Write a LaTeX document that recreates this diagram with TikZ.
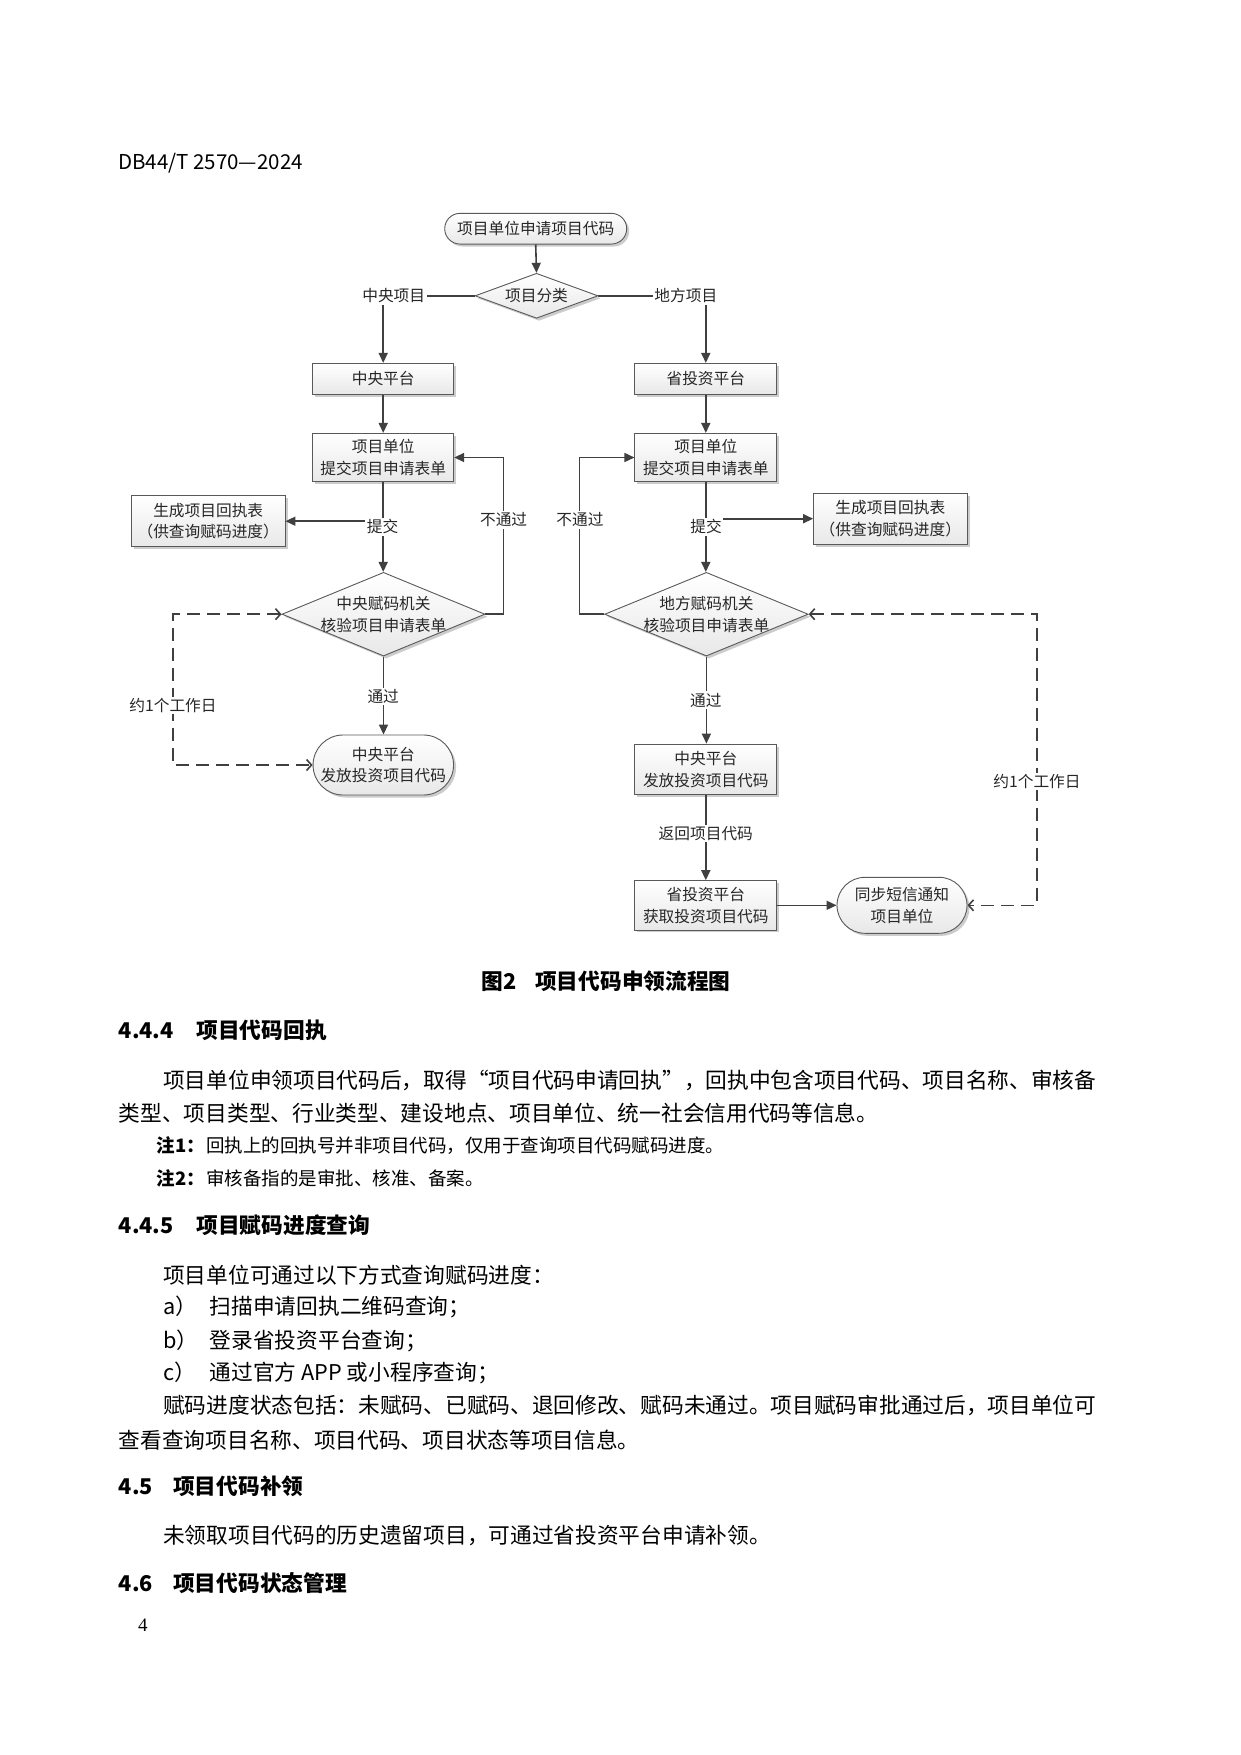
\documentclass[tikz,border=0pt]{standalone}
\usepackage{fontspec}
\newfontfamily\cjk{Noto Sans CJK SC}
\newfontfamily\serifnum{Liberation Serif}
\usetikzlibrary{shapes.geometric,shapes.misc,arrows.meta,shadows}

\definecolor{ln}{HTML}{404040}
\definecolor{bd}{HTML}{595959}
\definecolor{tx}{HTML}{262626}

\tikzset{
  dfont/.style={font=\cjk\fontsize{15.7}{21.7}\selectfont, text=tx},
  boxbase/.style={dfont, draw=bd, line width=0.9pt, top color=white, bottom color=black!9,
    drop shadow={shadow xshift=2.5pt, shadow yshift=-2.5pt, fill=black!20, opacity=1},
    align=center, inner sep=0pt},
  pbox/.style={boxbase, rectangle},
  tbox/.style={boxbase, rounded rectangle},
  dbox/.style={boxbase, diamond},
  ntext/.style={dfont, align=center, inner sep=0pt},
  lbl/.style={dfont, fill=white, inner sep=1.5pt},
  conn/.style={draw=ln, line width=1.6pt, -{Triangle[length=10pt,width=9pt]}},
  dconn/.style={draw=ln, line width=1.6pt, dash pattern=on 13pt off 7pt,
    {Straight Barb[length=5pt,width=11pt]}-{Straight Barb[length=5pt,width=11pt]}},
  body/.style={font=\cjk\fontsize{21.7}{21.7}\selectfont, anchor=west, inner sep=0pt,
    text height=19.1pt, text depth=2.6pt, text=black},
  hd/.style={body, font=\cjk\bfseries\fontsize{21.7}{21.7}\selectfont},
  note/.style={font=\cjk\fontsize{18.5}{18.5}\selectfont, anchor=west, inner sep=0pt,
    text height=16.3pt, text depth=2.2pt, text=black},
  notehd/.style={note, font=\cjk\bfseries\fontsize{18.5}{18.5}\selectfont},
}

\begin{document}
\begin{tikzpicture}[x=1pt,y=-1pt]
\useasboundingbox[fill=white] (0,0) rectangle (1241,1755);

% header
\node[anchor=west, inner sep=0pt, font=\cjk\fontsize{20.5}{20.5}\selectfont, text height=15pt, text depth=0pt] (hdr) at (118,170) [anchor=base west] {DB44/T 2570—2024};

% ---------- flowchart nodes ----------
\node[tbox, minimum width=182pt, minimum height=30.7pt] (s) at (535.7,228.7) {};
\node[ntext] (st) at (s) {项目单位申请项目代码};

\node[dbox, minimum width=123pt, minimum height=45pt] (d0) at (536.5,295.8) {};
\node[ntext] (d0t) at (d0) {项目分类};

\node[pbox, minimum width=141pt, minimum height=30.7pt] (b1) at (383.2,378.7) {中央平台};
\node[pbox, minimum width=141.8pt, minimum height=30.7pt] (b1r) at (705.8,378.7) {省投资平台};

\node[pbox, minimum width=141pt, minimum height=48.3pt] (b2) at (383.2,457.5) {项目单位\\提交项目申请表单};
\node[pbox, minimum width=141.8pt, minimum height=48.3pt] (b2r) at (705.8,457.5) {项目单位\\提交项目申请表单};

\node[pbox, minimum width=153.6pt, minimum height=51pt] (g1) at (208.2,521.2) {生成项目回执表\\（供查询赋码进度）};
\node[pbox, minimum width=153.4pt, minimum height=50.7pt] (g1r) at (890.3,518.7) {生成项目回执表\\（供查询赋码进度）};

\node[dbox, minimum width=203pt, minimum height=83.7pt] (d1) at (383.5,614.2) {};
\node[ntext] (d1t) at (d1) {中央赋码机关\\核验项目申请表单};
\node[dbox, minimum width=203.6pt, minimum height=83.7pt] (d2) at (706.4,614.2) {};
\node[ntext] (d2t) at (d2) {地方赋码机关\\核验项目申请表单};

\node[tbox, minimum width=140.5pt, minimum height=60pt] (e1) at (383.3,765) {};
\node[ntext] (e1t) at (e1) {中央平台\\发放投资项目代码};

\node[pbox, minimum width=141.8pt, minimum height=50.3pt] (c2) at (705.8,769.2) {中央平台\\发放投资项目代码};
\node[pbox, minimum width=141.8pt, minimum height=49.3pt] (g2) at (705.8,905.3) {省投资平台\\获取投资项目代码};

\node[tbox, minimum width=130pt, minimum height=56pt] (sms) at (902,905.3) {};
\node[ntext] (smst) at (sms) {同步短信通知\\项目单位};

% helper corners
\coordinate (fl) at (503.6,614.2);
\coordinate (fr) at (579.6,614.2);
\coordinate (dl1) at (173.2,614.2);
\coordinate (dl2) at (173.2,765);
\coordinate (dr1) at (1036.8,614.2);
\coordinate (dr2) at (1036.8,905.3);

% ---------- connectors ----------
\draw[conn] (s.south) -- (d0.north);
\draw[conn] (d0.west) -| (b1.north);
\draw[conn] (d0.east) -| (b1r.north);
\draw[conn] (b1) -- (b2);
\draw[conn] (b1r) -- (b2r);
\draw[conn] (b2.south) -- (b2.south |- d1.north);
\draw[conn] (b2r.south) -- (b2r.south |- d2.north);
\draw[conn] (b2.south |- g1.east) -- (g1.east);
\draw[conn] (b2r.south |- g1r.west) -- (g1r.west);
\draw[conn] (d1.east) -- (fl) |- (b2.east);
\draw[conn] (d2.west) -- (fr) |- (b2r.west);
\draw[conn] (d1.south) -- (d1.south |- e1.north);
\draw[conn] (d2.south) -- (d2.south |- c2.north);
\draw[conn] (c2) -- (g2);
\draw[conn] (g2) -- (sms);
\draw[dconn] (d1.west) -- (dl1) -- (dl2) -- (e1.west);
\draw[dconn] (d2.east) -- (dr1) -- (dr2) -- (sms.east);

% ---------- connector labels ----------
\node[lbl] (lz) at (393.7,295.8) {中央项目};
\node[lbl] (ld) at (685.8,295.8) {地方项目};
\node[lbl] (lt1) at (382.5,526.7) {提交};
\node[lbl] (lt2) at (706,526.7) {提交};
\node[lbl] (ln1) at (503.6,520) {不通过};
\node[lbl] (ln2) at (580,520) {不通过};
\node[lbl] (lp1) at (383.2,696.7) {通过};
\node[lbl] (lp2) at (705.8,700) {通过};
\node[lbl] (lr) at (705.8,833.3) {返回项目代码};
\node[lbl] (lw1) at (173,705.7) {约1个工作日};
\node[lbl] (lw2) at (1037,781.7) {约1个工作日};

% ---------- body text ----------
\node[hd] (cap1) at (481.7,981.7) {图2};
\node[hd] (cap2) at (535,981.7) {项目代码申领流程图};

\node[hd] (h1n) at (118.6,1030) {4.4.4};
\node[hd] (h1t) at (196.3,1030) {项目代码回执};

\node[body] (p1) at (163,1080) {项目单位申领项目代码后，取得“项目代码申请回执”，回执中包含项目代码、项目名称、审核备};
\node[body] (p2) at (118.6,1113.3) {类型、项目类型、行业类型、建设地点、项目单位、统一社会信用代码等信息。};

\node[notehd] (n1h) at (156.4,1145) {注1：};
\node[note] (n1t) at (206,1145) {回执上的回执号并非项目代码，仅用于查询项目代码赋码进度。};
\node[notehd] (n2h) at (156.4,1178.3) {注2：};
\node[note] (n2t) at (206,1178.3) {审核备指的是审批、核准、备案。};

\node[hd] (h2n) at (118.6,1225) {4.4.5};
\node[hd] (h2t) at (196.3,1225) {项目赋码进度查询};

\node[body] (q0) at (163,1275) {项目单位可通过以下方式查询赋码进度：};
\node[body] (qa) at (163,1306.7) {a）};
\node[body] (qat) at (209.6,1306.7) {扫描申请回执二维码查询；};
\node[body] (qb) at (163,1340) {b）};
\node[body] (qbt) at (209.6,1340) {登录省投资平台查询；};
\node[body] (qc) at (163,1372.7) {c）};
\node[body] (qct) at (209.6,1372.7) {通过官方 APP 或小程序查询；};
\node[body] (q1) at (163,1405) {赋码进度状态包括：未赋码、已赋码、退回修改、赋码未通过。项目赋码审批通过后，项目单位可};
\node[body] (q2) at (118.6,1440) {查看查询项目名称、项目代码、项目状态等项目信息。};

\node[hd] (h3n) at (118.6,1486.7) {4.5};
\node[hd] (h3t) at (173,1486.7) {项目代码补领};
\node[body] (r1) at (163,1535) {未领取项目代码的历史遗留项目，可通过省投资平台申请补领。};

\node[hd] (h4n) at (118.6,1583.3) {4.6};
\node[hd] (h4t) at (173,1583.3) {项目代码状态管理};

\node[anchor=west, inner sep=0pt, font=\serifnum\fontsize{19}{19}\selectfont] (pg) at (138,1625) {4};
\end{tikzpicture}
\end{document}
